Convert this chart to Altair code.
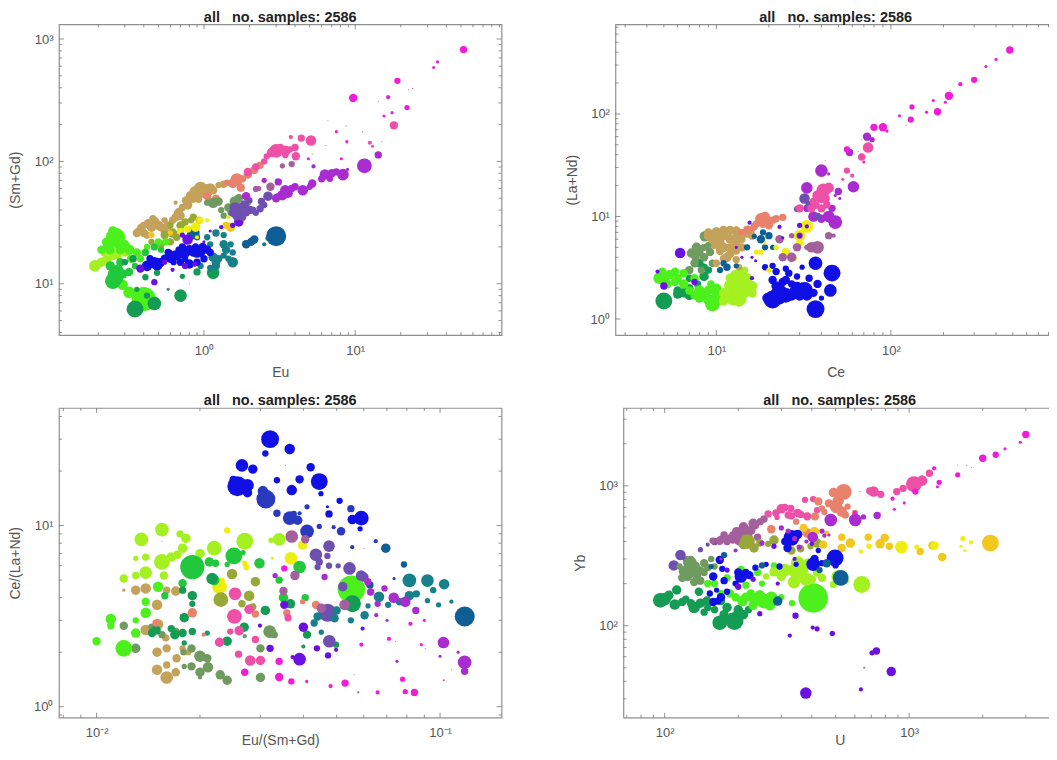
import altair as alt
import pandas as pd

PALETTE = {
    "lime": "#4cf01c", "chart": "#a4f020", "yellow": "#eeee10", "gold": "#f2c81e",
    "tan": "#c4a25a", "salmon": "#e8826c", "pink": "#ee50a8", "magenta": "#f01cd8",
    "orchid": "#a82cd0", "violet": "#6a10e0", "blue": "#1010e4", "royal": "#2a3ac0",
    "steel": "#0f5f96", "teal": "#17808a", "green": "#149c54", "leaf": "#22c83c",
    "sage": "#6f9a60", "mauve": "#a4609c", "slate": "#6e50b0", "olive": "#98a838",
}
TITLE = "all\u00a0\u00a0\u00a0no. samples: 2586"

# ---- Eu vs (Sm+Gd): (x, y, weight)
A_TAN = [(0.37,27,7),(0.4,26,8),(0.43,31,9),(0.47,32,10),(0.5,30,9),(0.42,25,7),(0.55,27,8),(0.38,29,6),(0.62,33,7),(0.65,35,8),(0.68,38,9),(0.72,42,7),(0.76,48,8),(0.82,52,10),(0.88,56,12),(0.95,60,13),(0.65,46,4),(1.05,58,12),(1.15,58,8),(1.25,64,6),(0.36,26,8),(0.45,29,9),(0.52,29,8),(0.58,30,8),(0.7,36,8),(0.78,44,9),(0.85,50,9),(0.9,54,11),(1,56,11),(1.1,60,10),(0.92,49,7),(0.55,33,6),(0.4,30,7),(0.46,34,7),(1.35,65,7)]
A_OLIVE = [(0.55,25,8),(0.62,26,9),(0.7,30,8),(0.75,32,7),(0.82,33,6),(0.6,30,6),(0.85,35,7),(0.6,22,7),(0.52,21,7),(0.66,24,7),(0.45,22,6),(0.7,27,6)]
A_SALMON = [(1.55,66,9),(1.65,71,12),(1.42,67,6),(1.8,72,7),(1.75,61,8),(1.95,78,8),(2.15,85,8),(2.35,93,7),(1.05,52,8),(1.2,50,7)]
A_SAGE = [(1.15,46,10),(1.25,47,8),(1.05,46,6),(1.6,47,10),(1.7,50,8),(1.5,38,6),(1.35,36,6),(1.95,46,6),(1.45,42,8),(1.3,40,6)]
A_CHART = [(0.19,14,11),(0.21,15,9),(0.23,16,9),(0.25,17,9),(0.22,18,8),(0.27,17,7),(0.3,18,8)]
A_LIME = [(0.26,24,18),(0.225,22,8),(0.21,19,8),(0.24,19,9),(0.28,19,9),(0.32,19,10),(0.36,18,8),(0.3,21,8),(0.4,7.5,23),(0.37,8.2,12),(0.32,8.5,11),(0.29,9.8,10),(0.42,20,6),(0.5,22,7),(0.56,22,7),(0.23,20,9),(0.27,21,9),(0.33,16,8),(0.38,16,7),(0.28,24,9),(0.25,27,9)]
A_LEAF = [(0.24,14,9),(0.27,13,10),(0.25,12,10),(0.29,12,9),(0.32,12.5,8),(0.25,10.5,15),(0.27,11,10),(0.28,15,8),(0.35,14,6),(0.41,18,7),(0.47,20,7),(0.52,19,6)]
A_GREEN = [(0.35,6.2,16),(0.47,6.9,13),(0.42,8,6),(0.36,9,5),(0.7,8,12),(0.58,9,3),(0.9,12.5,7),(1.15,12.3,12),(0.41,11.3,6),(0.49,12.3,6),(0.47,10.3,3),(0.72,11.5,5),(0.3,15,6),(0.34,16,7)]
A_TEAL = [(1.2,14,8),(1.2,15,8),(1.15,16.5,9),(1.25,16,7),(1.35,17,6),(1.45,16,6),(1.55,15,10),(1.4,19,8),(1.35,21,8),(1.5,21,6),(1.2,26,7),(1.35,25,6),(2.5,21,4),(2.65,23.5,5),(0.95,14,6),(1.1,13.5,6),(1.1,21,6),(1.05,24,6),(1.55,18,6)]
A_STEEL = [(3,24.5,19),(1.9,21,8),(2.05,22,8),(2.15,23,8),(0.85,26,12),(0.9,24,6)]
A_BLUE = [(0.42,14,10),(0.47,15,10),(0.49,14.5,12),(0.55,16,8),(0.6,16,8),(0.65,17,10),(0.7,17.5,9),(0.75,18,10),(0.8,19,9),(0.85,18,8),(0.9,18,10),(0.95,18,9),(1.05,19,8),(1.1,18,7),(0.7,15,7),(0.8,14.5,9),(0.9,15,7),(0.75,16,6),(0.68,19,6),(0.6,18,5),(0.44,16,7),(0.52,15,8),(0.58,18,7),(0.72,20,7),(0.88,20,7),(0.98,20,8),(1.0,16,7),(0.63,15,6)]
A_VIOLET = [(0.38,13.3,8),(0.55,15,5),(0.47,10.3,6),(0.62,13,4),(0.75,14,6),(0.78,23,10),(0.87,14.5,5),(0.72,25,5),(1.3,29,4),(1.1,27,3),(1,22,3),(1.7,32,9),(1.55,30,5)]
A_YELLOW = [(0.7,27,6),(0.78,28,7),(0.88,29,9),(0.95,33,6),(1.05,33,4),(1.45,35,4),(1.6,34,3),(1.7,36,3),(0.82,23,3),(0.9,24,4)]
A_GOLD = [(0.93,33,7),(0.6,26,5),(0.45,25,6),(1.5,29,9),(1.4,30,7)]
A_SLATE = [(1.7,41,10),(1.85,44,9),(2,40,8),(1.65,36,9),(1.8,35,7),(2.4,47,7),(2.65,52,9),(2.35,41,7),(2.1,40,7),(2.5,44,6),(1.55,38,8),(1.6,42,10),(1.75,39,8),(1.9,38,7),(2.2,38,6),(2.0,48,6)]
A_ORCHID = [(1.9,52,8),(2.5,70,5),(3,50,8),(3.3,53,10),(3.45,58,10),(3.6,55,9),(4,62,7),(4.5,58,10),(5.2,66,8),(6.3,78,10),(7,80,8),(7.5,82,7),(8.3,78,11),(8.9,86,3),(11.5,92,14),(14.2,113,7),(5.3,91,4),(3.1,68,7),(2.2,60,5),(3.8,60,7),(5,62,6),(6,72,7),(6.8,72,6),(3.1,52,6)]
A_MAUVE = [(2.75,62,8),(3.8,95,6),(2.3,60,5),(2.2,59,5),(3.3,92,5)]
A_PINK = [(2.8,118,9),(3,122,13),(3.2,125,9),(3.45,122,10),(2.6,110,6),(3.2,130,7),(3.45,112,6),(4,130,7),(4.05,110,8),(4.4,155,7),(5.1,148,10),(3.75,158,4),(18,197,8),(12.5,142,4),(13,133,3),(2.5,100,6),(3.7,125,6),(2.2,90,7),(1.95,82,8)]
A_MAGENTA = [(52,820,7),(35,650,3),(33,585,3),(19,455,6),(9.7,330,8),(16.5,335,4),(22,275,5),(15.5,235,3),(17.5,250,3),(7.5,175,3),(8.8,145,3),(8.1,105,3),(4.9,105,3)]
A_TINY = [(24,395,1),(22.5,385,1),(14.2,310,1),(6.6,215,1),(8.7,195,1),(11.2,175,1),(15,145,1),(6.4,135,1),(5.2,115,1),(0.8,10,1),(0.58,9,2)]

# ---- Ce vs (La+Nd)
B_GREEN = [(5,1.5,16),(6,1.9,8),(6.5,1.8,9),(7,2,8),(7.8,2.2,7),(8.5,2.6,9),(8,3.5,8),(7,1.7,9),(6,1.75,9),(7.5,2.4,7),(9,3,7),(8.5,3.2,7),(7,2.5,7)]
B_SAGE = [(7.7,5,9),(7.2,4.4,9),(7.6,4,8),(8.5,4,8),(7.5,3.5,8),(8.6,6.4,10),(7,3,8),(9.2,4.5,8),(8.2,3,7),(9.5,3.5,7),(8,4.5,8),(9,5.2,7),(8.5,5,7)]
B_LIME = [(9.5,1.4,14),(10,1.7,10),(8.5,1.7,10),(8,1.9,10),(9,1.9,9),(7,1.9,8),(6.5,2.2,9),(5,2.4,10),(4.7,2.5,11),(5.4,2.7,9),(4.9,2.9,8),(5.8,2.9,8),(6.5,2.8,8),(9.3,2.2,7),(9,1.55,10),(8,1.6,9),(10.5,1.55,10),(7.5,1.7,8),(6,2.5,8),(5.8,2.3,8),(7.5,2.5,8),(5.2,2.2,9),(10,2,9)]
B_CHART = [(14,2.3,14),(15,2,12),(16,2.1,10),(13,2.6,13),(12,2.1,12),(11,1.8,9),(12.5,1.6,14),(14,1.55,9),(11,1.5,9),(12.4,2,12),(14,2.8,9),(13,1.8,12),(14.5,1.8,10),(16,1.8,9),(12,2.5,9),(15,2.5,10),(11.5,1.6,10),(13.5,1.5,11),(14.5,3,7)]
B_TAN = [(10,7,10),(11,7.3,9),(12,7.3,9),(13,7.2,9),(9,7,8),(9.5,6,9),(10.5,5.5,9),(11,5,9),(12,5,8),(13,5.5,8),(11.5,4,9),(13,3.8,7),(14,5,8),(15,6.8,8),(16,6.5,8),(12,6,9),(10,3.5,7),(13.5,3.2,6),(9,6.5,9),(10,6,9),(11,6.5,9),(13,6.3,8),(14,6,7),(10.5,4.6,8),(12,4.3,8),(9.8,5.2,7),(11,3.9,7),(13,4.6,7)]
B_SALMON = [(18,9.5,11),(19,10,9),(20,9,9),(21,9.2,7),(22,9.5,7),(24,9.8,7),(17,8.5,7),(16.5,8,7),(15,7.5,7),(20,8.2,8),(18.5,8.5,8),(16,7.5,6),(14,7,7)]
B_STEEL = [(18,6,8),(19,5,6),(16.5,6.4,5),(11,3.5,6),(11.5,3.2,7),(10.5,3,6),(13,3.3,5),(21,5,5),(20,6.5,7),(15,5,6),(18.5,7,6)]
B_VIOLET = [(6.2,4.4,10),(4.6,2.9,4),(5,2.1,7),(7.5,2.3,6),(13,5,3),(14,4,3),(15.5,8.7,4),(16,4,3),(16.8,3.7,3),(16,2.5,4),(23,7.9,4),(24,6.2,3),(30,8.2,5),(33,8,4),(30,6.5,5)]
B_BLUE = [(37,1.25,17),(37,3.5,13),(46,2.8,16),(45,1.9,12),(38,2.2,8),(32,1.9,16),(28,1.8,12),(25,1.7,14),(23,1.6,12),(21,1.55,17),(27,2.2,7),(24,2.3,8),(21,2.4,8),(22,2.9,7),(26,2.8,7),(29,2.6,6),(19,3.2,6),(21,3.3,6),(25,3.1,6),(31,3.2,5),(34,2.5,7),(23,2,10),(40,1.6,5),(36,1.8,8),(24,1.8,12),(29,2,12),(33,1.7,10),(22,2.1,9),(25,2.4,8),(27,1.7,10),(19.5,1.6,9),(22,1.8,10),(30,1.7,10)]
B_YELLOW = [(33,8,12),(30,6.5,11),(30,5.5,7),(25,4.5,8),(22,5,5),(19,5.5,3),(17,4.5,5),(18,4.5,5),(28,3.9,5),(20,3,5),(24,6,3)]
B_ROSY = [(23,6,8),(27,4,9),(24,4,8),(29,5,8),(38,5,12),(35,5,10),(33,5,5),(44,6.5,7),(47,6.5,4),(27,6.5,5),(30,6.5,6)]
B_ORCHID = [(48,8.8,13),(44,10,11),(40,9.5,8),(36,10,10),(33,12,7),(46,12,7),(50,17.5,7),(48,16,3),(51,15,3),(33,19,11),(61,19.5,11),(40,28,12),(44,26,3),(58,42,7),(73,60,8),(78,56,5)]
B_SLATE = [(32,15,10),(34,13,7),(29,11.8,6),(38,10,7)]
B_PINK = [(41,18,13),(44,19,10),(40,15,9),(37,13,8),(40,12,8),(43,13,7),(35,12,8),(30,12,8),(74,47,10),(68,38,7),(56,28,6),(60,25,4),(53,23,3),(38,16,10),(42,15,9),(36,14,7)]
B_MAGENTA = [(480,420,7),(400,340,3),(350,290,3),(300,215,6),(250,195,4),(215,150,8),(205,130,3),(175,135,3),(185,105,7),(160,104,3),(132,117,5),(130,88,6),(112,96,3),(95,68,3),(90,74,8),(80,74,7),(56,45,6),(70,34,3)]
B_TINY = [(122,77,1),(218,170,1),(42,35,1),(68,56,1),(65,43,1)]

# ---- Eu/(Sm+Gd) vs Ce/(La+Nd)
C_TAN = [(0.013,4.4,9),(0.0139,4.5,10),(0.012,4.4,3),(0.015,3.65,10),(0.016,4.4,7),(0.017,4.35,9),(0.0151,2.85,10),(0.0139,2.65,10),(0.015,2,9),(0.0159,2.4,7),(0.016,2.1,8),(0.0171,1.85,8),(0.015,1.6,10),(0.016,1.45,12),(0.017,1.55,8),(0.016,1.7,7),(0.0178,2.1,6),(0.0185,2,6)]
C_SAGE = [(0.0179,2,6),(0.0189,2.1,8),(0.02,1.9,11),(0.021,1.85,8),(0.02,1.55,9),(0.0211,1.65,10),(0.0189,1.67,8),(0.018,1.67,5),(0.02,1.45,4),(0.0229,1.5,9),(0.024,1.4,9),(0.03,1.45,9),(0.0319,2.6,12),(0.0329,2.5,7),(0.03,2.1,8),(0.027,2.45,4),(0.013,2.1,9),(0.012,2.8,8),(0.017,2.6,7),(0.0155,2.5,7),(0.0145,2.75,7)]
C_CHART = [(0.0155,9.5,13),(0.0135,8.4,13),(0.0175,9,7),(0.0182,8.5,9),(0.0178,7.5,9),(0.0172,6.9,8),(0.0165,6.7,9),(0.0155,6.3,15),(0.0157,5.3,8),(0.013,6.6,5),(0.0139,6.7,7),(0.0139,5.5,12),(0.013,5.3,7),(0.012,5.1,8),(0.022,7.5,14),(0.02,7,9),(0.027,8.2,16),(0.034,8.4,12),(0.0322,8.3,5)]
C_YELLOW = [(0.024,9.4,6),(0.0398,7.8,9),(0.0368,6.6,12),(0.0273,5.9,6),(0.0228,4.6,14),(0.027,6.2,5),(0.0232,5,5),(0.0325,6.6,3)]
C_LEAF = [(0.0251,6.8,16),(0.024,6.1,5),(0.0298,6.2,10),(0.022,5,10),(0.0213,6.3,9),(0.0222,6.2,7),(0.039,5.9,12),(0.034,5,7),(0.019,5.9,23),(0.0267,7.1,5),(0.0405,4,7),(0.035,4,9),(0.0178,4.8,8),(0.0158,4.1,7)]
C_OLIVE = [(0.029,4.9,9),(0.0248,5.4,10),(0.0278,4.1,10),(0.023,3.9,14),(0.0265,3.7,7),(0.0285,3.55,7)]
C_LIME = [(0.012,2.1,16),(0.01,2.3,8),(0.011,3.05,10),(0.011,2.8,7),(0.013,3,6),(0.013,2.55,9),(0.0139,3.3,10),(0.0139,3.8,8),(0.0151,4.6,10),(0.0552,4.45,26)]
C_GREEN = [(0.019,4.1,9),(0.019,3.7,6),(0.0178,4.4,7),(0.018,3.1,9),(0.0169,2.5,9),(0.018,2.25,5),(0.019,2.6,7),(0.0178,2.55,8),(0.0149,2.65,9),(0.0217,5.1,11),(0.021,2.55,5),(0.024,2.3,9),(0.0269,2.75,9),(0.031,3.4,9),(0.0367,3.7,9),(0.0556,3.7,16),(0.0498,2.2,6),(0.041,2.5,8),(0.04,2.15,4),(0.0145,2.55,8),(0.0165,2.7,7)]
C_ORANGE = [(0.029,3.25,7),(0.0358,3.3,7),(0.0398,3.8,5),(0.0435,3.65,8),(0.019,3.3,9),(0.0149,2.9,7),(0.0205,2.5,4)]
C_PINK = [(0.0252,3.15,14),(0.0253,4.2,12),(0.0228,2.27,9),(0.0259,1.95,7),(0.028,1.8,10),(0.03,1.8,9),(0.029,2.35,7),(0.0278,3.45,9),(0.026,2.63,9),(0.0361,3.1,7),(0.0245,2.6,6)]
C_BLUE = [(0.032,30,17),(0.0365,26.5,10),(0.031,25,6),(0.0265,21.5,12),(0.0285,20.5,9),(0.042,21,8),(0.0335,17.8,6),(0.039,18,8),(0.0445,17.5,16),(0.0257,16.5,19),(0.0275,16.7,12),(0.025,18,7),(0.0275,15.2,9),(0.037,15.7,10),(0.045,15,5),(0.0555,10.8,9),(0.059,11,14),(0.0585,9.6,5),(0.051,13.7,6),(0.047,12.7,3),(0.0475,11.6,7)]
C_ROYAL = [(0.0311,14,18),(0.0305,15.5,10),(0.0335,11.7,7),(0.0365,11,13),(0.0385,10.7,9),(0.0375,11.6,6),(0.041,9.3,13),(0.041,12.7,5),(0.039,11.7,4),(0.055,12.4,7),(0.0515,9.3,8),(0.0445,9.9,5),(0.049,9.8,4),(0.065,8.2,4),(0.0555,7.6,4),(0.0735,5.1,3)]
C_SLATE = [(0.0475,7.7,11),(0.0435,6.9,12),(0.047,6.8,6),(0.0445,6.3,7),(0.0475,6,6),(0.0505,6,5),(0.0545,5.8,12),(0.06,5.2,9),(0.052,4.6,6),(0.044,5.9,6),(0.0471,3.3,17),(0.0476,2.3,12),(0.0589,5.3,10),(0.0521,4.6,9)]
C_MAUVE = [(0.037,8.7,12),(0.0405,8.4,8),(0.0378,5.3,9),(0.035,4.35,8),(0.0451,3.5,9),(0.0527,3.65,10)]
C_TEAL = [(0.1028,4.75,10),(0.0919,4.97,12),(0.0814,4.98,13),(0.0955,4.4,6),(0.0919,3.85,5),(0.099,3.65,5),(0.1079,3.8,4),(0.0853,4.2,7),(0.0814,4.1,9),(0.0762,3.8,7),(0.0706,3.65,6),(0.0664,4.05,10),(0.0617,3.6,5),(0.0603,3.2,8),(0.044,3.15,8),(0.0451,2.58,5),(0.0493,3.08,8),(0.043,2.9,7),(0.05,3.4,8),(0.055,3,6)]
C_STEEL = [(0.118,3.15,19),(0.0695,7.5,9),(0.0785,6.1,6),(0.0625,4.7,7)]
C_ORCHID = [(0.1023,2.26,11),(0.1179,1.76,13),(0.1179,1.57,7),(0.1129,2,3),(0.085,3.4,7),(0.0652,3.2,4),(0.0701,3,3),(0.1,1.9,3),(0.0749,1.78,3),(0.0733,4,10),(0.0792,3.8,10),(0.0689,4.5,6),(0.0628,4.3,7),(0.0658,3.7,6),(0.0616,4.9,7),(0.0461,5.2,6),(0.0331,5.3,5)]
C_VIOLET = [(0.039,1.83,12),(0.0472,1.92,6),(0.0438,2.1,6),(0.0372,1.88,4),(0.032,2.1,7),(0.04,2.75,9),(0.0595,2.7,4),(0.0299,2.8,4),(0.0352,3.65,8),(0.0498,2.06,4)]
C_MAGENTA = [(0.0529,1.35,7),(0.048,1.3,4),(0.0658,1.2,4),(0.0792,1.21,5),(0.0842,1.2,7),(0.0778,1.42,5),(0.071,2.37,4),(0.059,2.2,4),(0.0882,2.2,3),(0.09,3,3),(0.082,2.87,4),(0.0369,1.38,6),(0.0409,1.38,3),(0.034,1.46,8),(0.027,1.55,7),(0.034,1.78,7),(0.0352,5.8,6)]
C_TINY = [(0.0578,1.2,2),(0.0742,2.3,1),(0.0905,2.1,1),(0.1025,1.4,2),(0.108,1.6,1),(0.0562,1.5,1),(0.0355,21.5,1),(0.06,7.5,1),(0.0155,8.2,1)]

# ---- U vs Yb
D_SLATE = [(116,320,10),(109,270,10),(123,295,7),(140,350,5),(150,380,4),(160,400,7)]
D_SAGE = [(127,280,13),(120,245,10),(133,265,10),(124,225,9),(132,205,8),(145,280,8),(115,265,6),(128,240,9),(140,250,7),(155,300,6),(135,230,9),(125,255,8),(145,240,7),(150,260,7),(118,220,8),(128,300,6),(160,265,6),(140,210,8)]
D_GREEN = [(96,152,14),(104,165,9),(110,142,10),(112,180,9),(122,155,7),(132,135,11),(145,125,7),(138,175,8),(149,150,9),(168,105,14),(193,108,17),(187,118,5),(220,130,7),(160,130,7),(100,155,12),(118,148,8),(128,145,8),(140,145,9),(150,135,7),(170,150,8),(180,135,9),(200,130,9),(210,120,9),(175,120,9),(200,125,9)]
D_MAUVE = [(246,555,7),(230,540,9),(210,510,9),(197,470,9),(185,425,7),(175,445,7),(168,405,8),(157,405,6),(203,415,12),(225,480,9),(190,445,7),(215,445,9),(180,400,7),(190,410,7),(200,440,8),(220,430,8),(235,520,7),(255,580,7),(170,420,6),(205,480,7),(240,430,7)]
D_OLIVE = [(218,400,14),(232,360,9),(210,380,9),(280,410,9),(265,385,6),(245,390,7),(330,345,8),(420,390,9),(360,355,7),(395,370,6)]
D_ROSE = [(300,685,9),(328,690,7),(350,640,8),(265,630,7),(320,620,7),(383,605,8),(288,595,5),(375,795,6),(405,805,6),(345,645,5),(285,640,7),(330,610,7),(360,625,7),(310,700,7),(420,670,6)]
D_SALMON = [(540,905,15),(490,895,9),(503,710,12),(530,655,10),(548,620,7),(440,690,6),(425,775,8),(412,605,8),(345,555,6),(273,490,8),(383,460,9),(520,780,8),(560,880,5),(470,750,8),(510,780,10),(560,710,6),(600,640,6),(450,650,6)]
D_LIME = [(405,158,28),(255,150,14),(235,153,12),(208,150,10),(273,158,12),(332,145,6),(225,170,8),(185,170,8),(160,200,7),(205,250,8),(240,240,7),(180,220,7),(280,270,6),(230,140,9),(245,165,10),(270,140,10),(300,160,6),(215,160,9),(195,160,8),(170,170,7),(150,200,7),(215,195,7),(250,200,6)]
D_CHART = [(640,197,16),(490,197,7),(510,225,12),(440,220,8),(380,215,13),(338,205,12),(310,250,12),(350,280,13),(280,243,9),(260,225,6),(385,280,9),(550,210,6),(300,225,9),(340,240,10),(370,250,9),(420,240,8),(330,255,7),(400,215,8),(360,230,8)]
D_GOLD = [(2150,390,16),(1365,310,8),(1245,375,8),(1110,340,7),(830,370,7),(760,385,9),(795,425,8),(680,430,7),(575,390,9),(530,360,8),(530,430,7),(445,380,8),(410,470,9),(400,430,7),(370,500,8),(460,460,5)]
D_YELLOW = [(1660,420,5),(1790,395,4),(1630,370,3),(1270,375,8),(1075,365,5),(930,365,12),(685,370,5),(635,340,4),(1690,345,3)]
D_BLUE = [(330,425,15),(318,360,8),(405,275,13),(498,305,16),(205,225,12),(222,230,8),(170,160,8),(158,148,8),(153,170,6),(163,180,5),(158,225,8),(168,295,8),(172,255,6),(425,345,5),(345,275,5),(195,200,6),(215,240,7),(260,275,5),(310,400,7),(175,210,7),(165,150,7),(180,175,6),(200,240,8),(235,260,6),(295,265,6),(350,450,9),(410,300,8),(440,280,6),(500,270,6)]
D_STEEL = [(460,280,8),(525,220,15),(290,150,9),(430,250,6),(250,270,6),(175,320,6),(155,265,5)]
D_ORCHID = [(403,430,10),(602,570,12),(650,600,5),(740,615,7),(478,570,12),(450,440,4),(380,400,4),(440,475,5),(320,475,5),(250,390,5),(195,345,4),(170,300,3),(470,445,3),(355,365,5),(300,500,5),(340,420,5)]
D_VIOLET = [(378,33,11),(635,35,4),(845,47,9),(735,66,7),(705,64,5),(485,88,5),(420,95,5),(403,97,4),(325,85,4),(343,118,6),(245,122,5),(290,200,4),(200,190,6),(180,250,5),(230,215,5),(340,300,4),(280,370,5),(400,385,4)]
D_PINK = [(1130,1090,10),(1046,1030,15),(945,960,7),(890,910,7),(715,910,10),(690,920,7),(765,870,7),(1210,1230,7)]
D_MAGENTA = [(3000,2330,7),(2850,2050,3),(2467,1840,3),(2260,1670,6),(2000,1575,7),(1580,1200,5),(1265,1335,4),(1327,1060,5),(1305,985,3),(1060,910,6),(855,810,4),(955,755,3),(870,680,3),(600,640,4)]
D_TINY = [(1720,1400,1),(1580,1410,1),(1800,1360,1),(655,50,2),(630,910,1),(760,640,1)]

# ---- decade labels and tick positions of each panel
A_XMAJ = [1, 10]; A_XMIN = [0.2,0.3,0.4,0.5,0.6,0.7,0.8,0.9,2,3,4,5,6,7,8,9,20,30,40,50,60,70,80,90]
A_YMAJ = [10, 100, 1000]; A_YMIN = [4,5,6,7,8,9,20,30,40,50,60,70,80,90,200,300,400,500,600,700,800,900]
B_XMAJ = [10, 100]; B_XMIN = [3,4,5,6,7,8,9,20,30,40,50,60,70,80,90,200,300,400,500,600,700,800]
B_YMAJ = [1, 10, 100]; B_YMIN = [2,3,4,5,6,7,8,9,20,30,40,50,60,70,80,90,200,300,400,500,600,700]
C_XMAJ = [0.01, 0.1]; C_XMIN = [0.008,0.009,0.02,0.03,0.04,0.05,0.06,0.07,0.08,0.09]
C_YMAJ = [1, 10]; C_YMIN = [0.9,2,3,4,5,6,7,8,9,20,30,40]
D_XMAJ = [100, 1000]; D_XMIN = [70,80,90,200,300,400,500,600,700,800,900,2000,3000]
D_YMAJ = [100, 1000]; D_YMIN = [30,40,50,60,70,80,90,200,300,400,500,600,700,800,900,2000,3000]

LABEL = ("'10' + ({'-2':'\u207b\u00b2','-1':'\u207b\u00b9','0':'\u2070','1':'\u00b9','2':'\u00b2','3':'\u00b3'})"
         "['' + round(log(datum.value) / LN10)]")
GREY = "#555555"
TICK = "#777777"


def frame(groups):
    rows = []
    for name, pts in groups:
        rows += [{"x": a, "y": b, "w": c, "g": name} for a, b, c in pts]
    return pd.DataFrame(rows)


def x_axis(vals, title_pad):
    return alt.Axis(values=vals, labelExpr=LABEL, ticks=False, grid=False, domain=False,
                    labelPadding=9, titlePadding=title_pad, labelFontSize=13, titleFontSize=14,
                    labelColor=GREY, titleColor=GREY, labelFont="Liberation Sans",
                    titleFont="Liberation Sans", titleFontWeight="normal", minExtent=24, maxExtent=24)


def y_axis(vals):
    return alt.Axis(values=vals, labelExpr=LABEL, ticks=False, grid=False, domain=False,
                    labelPadding=6, titlePadding=9, labelFontSize=13, titleFontSize=14,
                    labelColor=GREY, titleColor=GREY, labelFont="Liberation Sans",
                    titleFont="Liberation Sans", titleFontWeight="normal", minExtent=27, maxExtent=27)


def tick_layers(values, channel, enc, h, w, length):
    d = alt.Data(values=[{"x": v, "y": v} for v in values])
    base = alt.Chart(d).mark_rule(color=TICK, strokeWidth=0.8)
    if channel == "x":
        return [base.encode(x=enc, y=alt.value(0), y2=alt.value(length)),
                base.encode(x=enc, y=alt.value(h), y2=alt.value(h - length))]
    return [base.encode(y=enc, x=alt.value(0), x2=alt.value(length)),
            base.encode(y=enc, x=alt.value(w), x2=alt.value(w - length))]


def panel(groups, xname, yname, xdom, ydom, xmaj, xmin, ymaj, ymin, w, h, left, title_pad):
    xenc = alt.X("x:Q", scale=alt.Scale(type="log", domain=xdom, nice=False), title=xname, axis=x_axis(xmaj, title_pad))
    yenc = alt.Y("y:Q", scale=alt.Scale(type="log", domain=ydom, nice=False), title=yname, axis=y_axis(ymaj))
    names = list(PALETTE)
    pts = alt.Chart(frame(groups)).mark_circle(opacity=1).encode(
        x=xenc, y=yenc,
        size=alt.Size("w:Q", scale=alt.Scale(type="pow", exponent=2, domain=[0, 30], range=[0, 1000]), legend=None),
        color=alt.Color("g:N", scale=alt.Scale(domain=names, range=[PALETTE[n] for n in names]), legend=None),
    )
    layers = []
    layers += tick_layers(xmaj, "x", xenc, h, w, 5) + tick_layers(xmin, "x", xenc, h, w, 3)
    layers += tick_layers(ymaj, "y", yenc, h, w, 5) + tick_layers(ymin, "y", yenc, h, w, 3)
    spacer = alt.Chart(alt.Data(values=[{"t": "."}])).mark_text(opacity=0, fontSize=1).encode(
        x=alt.value(-left), y=alt.value(0), text="t:N")
    return alt.layer(pts, *layers, spacer).properties(
        width=w, height=h,
        title=alt.TitleParams(TITLE, fontSize=14.5, font="Liberation Sans", fontWeight="bold",
                              color="#222222", offset=-2, anchor="middle"))


p1 = panel([("tan", A_TAN), ("olive", A_OLIVE), ("salmon", A_SALMON), ("sage", A_SAGE), ("chart", A_CHART),
            ("lime", A_LIME), ("leaf", A_LEAF), ("green", A_GREEN), ("teal", A_TEAL), ("steel", A_STEEL),
            ("gold", A_GOLD), ("yellow", A_YELLOW), ("blue", A_BLUE), ("violet", A_VIOLET), ("slate", A_SLATE),
            ("orchid", A_ORCHID), ("mauve", A_MAUVE), ("pink", A_PINK), ("magenta", A_MAGENTA), ("mauve", A_TINY)],
           "Eu", "(Sm+Gd)", [0.11, 92.7], [3.81, 1318], A_XMAJ, A_XMIN, A_YMAJ, A_YMIN, 443, 311, 50, 6)
p2 = panel([("green", B_GREEN), ("sage", B_SAGE), ("lime", B_LIME), ("chart", B_CHART), ("tan", B_TAN),
            ("salmon", B_SALMON), ("steel", B_STEEL), ("blue", B_BLUE), ("yellow", B_YELLOW), ("mauve", B_ROSY),
            ("orchid", B_ORCHID), ("slate", B_SLATE), ("pink", B_PINK), ("violet", B_VIOLET),
            ("magenta", B_MAGENTA), ("mauve", B_TINY)],
           "Ce", "(La+Nd)", [2.64, 883], [0.698, 747], B_XMAJ, B_XMIN, B_YMAJ, B_YMIN, 441, 311, 50, 6)
p3 = panel([("tan", C_TAN), ("sage", C_SAGE), ("chart", C_CHART), ("yellow", C_YELLOW), ("leaf", C_LEAF),
            ("olive", C_OLIVE), ("lime", C_LIME), ("green", C_GREEN), ("salmon", C_ORANGE), ("pink", C_PINK),
            ("blue", C_BLUE), ("royal", C_ROYAL), ("slate", C_SLATE), ("mauve", C_MAUVE), ("teal", C_TEAL),
            ("steel", C_STEEL), ("orchid", C_ORCHID), ("violet", C_VIOLET), ("magenta", C_MAGENTA), ("mauve", C_TINY)],
           "Eu/(Sm+Gd)", "Ce/(La+Nd)", [0.00777, 0.151], [0.87, 44.6], C_XMAJ, C_XMIN, C_YMAJ, C_YMIN, 443, 310, 50, -8)
p4 = panel([("slate", D_SLATE), ("sage", D_SAGE), ("green", D_GREEN), ("mauve", D_MAUVE), ("olive", D_OLIVE),
            ("pink", D_ROSE), ("salmon", D_SALMON), ("lime", D_LIME), ("chart", D_CHART), ("gold", D_GOLD),
            ("yellow", D_YELLOW), ("blue", D_BLUE), ("steel", D_STEEL), ("orchid", D_ORCHID), ("violet", D_VIOLET),
            ("pink", D_PINK), ("magenta", D_MAGENTA), ("mauve", D_TINY)],
           "U", "Yb", [67.8, 3987], [22, 3606], D_XMAJ, D_XMIN, D_YMAJ, D_YMIN, 433, 310, 58, -8)

chart = (
    alt.concat(p1, p2, p3, p4, columns=2, spacing=alt.RowColnumber(row=12, column=62), align="none", bounds="full")
    .properties(padding={"left": 0, "top": 0, "right": -8, "bottom": 0})
    .configure_view(stroke="#909090", strokeWidth=1.2)
)
chart.save("out.html", embed_options={"renderer": "svg", "actions": False})
